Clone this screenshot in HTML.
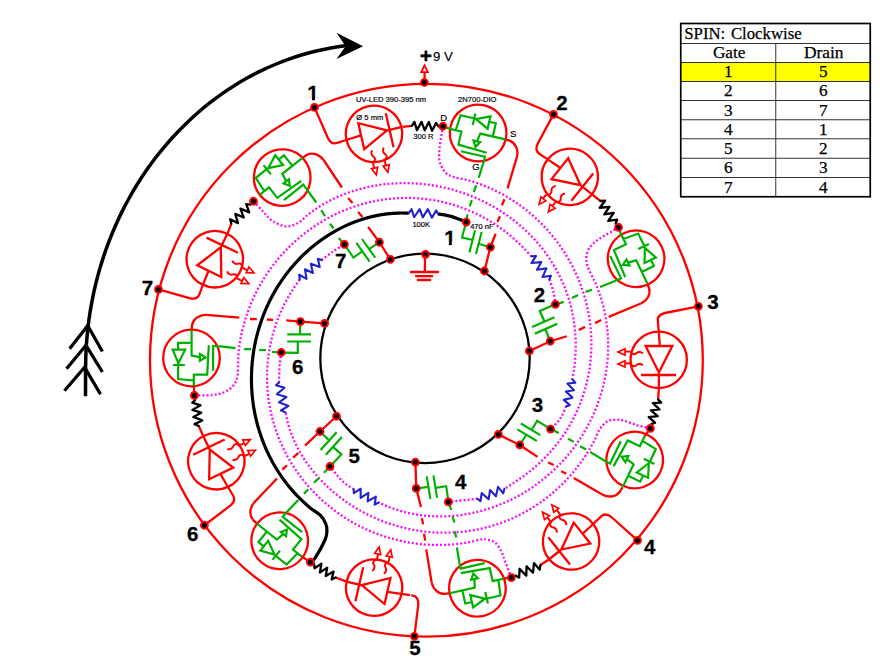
<!DOCTYPE html>
<html><head><meta charset="utf-8"><title>SPIN: Clockwise</title>
<style>
html,body{margin:0;padding:0;background:#fff;}
body{width:896px;height:672px;position:relative;overflow:hidden;}
svg{position:absolute;left:0;top:0;}
text{font-kerning:normal;}
</style></head><body>
<svg width="896" height="672" viewBox="0 0 896 672">
<circle cx="426.4" cy="360.25" r="276.4" stroke="#ff0000" stroke-width="2.3" fill="none"/>
<circle cx="425" cy="358.35" r="104.7" fill="none" stroke="#000" stroke-width="2.3"/>
<path d="M442.9,126.25 C442.62,127.96 441.83,132.71 441.25,136.5 C440.67,140.29 439.71,145.04 439.4,149 C439.09,152.96 438.98,157.23 439.4,160.25 C439.82,163.27 440.76,164.91 441.9,167.1 C443.04,169.29 444.27,171.73 446.25,173.4 C448.23,175.07 450.4,176.02 453.75,177.1 C457.1,178.18 462.21,178.77 466.37,179.87 C470.53,180.96 474.65,182.23 478.7,183.66 C482.74,185.08 486.73,186.68 490.64,188.42 C494.54,190.16 498.38,192.07 502.12,194.1 C505.86,196.13 509.52,198.31 513.08,200.62 C516.64,202.92 520.11,205.36 523.47,207.91 C526.82,210.46 530.08,213.14 533.23,215.92 C536.37,218.69 539.41,221.59 542.32,224.57 C545.24,227.55 548.04,230.64 550.71,233.8 C553.39,236.97 555.95,240.23 558.38,243.56 C560.8,246.88 563.11,250.3 565.28,253.77 C567.45,257.23 569.49,260.78 571.4,264.37 C573.31,267.96 575.09,271.61 576.73,275.3 C578.37,278.99 579.87,282.74 581.24,286.51 C582.61,290.28 583.84,294.1 584.93,297.93 C586.02,301.77 586.98,305.63 587.79,309.51 C588.61,313.38 589.28,317.28 589.82,321.18 C590.36,325.07 590.76,328.98 591.02,332.88 C591.28,336.78 591.4,340.68 591.39,344.56 C591.37,348.44 591.22,352.31 590.94,356.16 C590.65,360 590.23,363.83 589.68,367.62 C589.13,371.41 588.44,375.17 587.63,378.88 C586.82,382.6 585.88,386.28 584.81,389.9 C583.75,393.52 582.56,397.1 581.26,400.62 C579.95,404.13 578.52,407.6 576.98,410.99 C575.45,414.38 573.79,417.71 572.04,420.97 C570.28,424.22 568.41,427.41 566.45,430.51 C564.49,433.62 562.42,436.65 560.27,439.59 C558.12,442.54 555.87,445.4 553.54,448.18 C551.22,450.95 548.8,453.64 546.31,456.24 C543.83,458.84 541.26,461.35 538.63,463.77 C536,466.19 533.29,468.52 530.53,470.77 C527.78,473.01 524.95,475.16 522.08,477.22 C519.21,479.28 516.27,481.22 513.32,483.14 C510.37,485.06 505.89,487.81 504.4,488.75" stroke="#ff00ff" stroke-width="2.3" fill="none" stroke-dasharray="1.9 2.15"/><path d="M477.5,498.75 C472.65,499.27 453.25,501.38 448.4,501.9" stroke="#ff00ff" stroke-width="2.3" fill="none" stroke-dasharray="1.9 2.15"/><polyline points="504.4,488.75 503.26,493.33 498.01,486.92 495.92,496.32 490.1,490.03 488.59,499.3 481.71,493.03 480.46,501.24 477.5,498.75" fill="none" stroke="#2222cc" stroke-width="2.1" stroke-linejoin="round" stroke-linecap="round"/>
<path d="M618.5,227.3 C617.46,227.96 614.75,229.76 612.25,231.25 C609.75,232.74 606.21,234.58 603.5,236.25 C600.79,237.92 598.29,239.38 596,241.25 C593.71,243.12 591.32,245.21 589.75,247.5 C588.18,249.79 587.12,252.5 586.6,255 C586.08,257.5 586.18,260 586.6,262.5 C587.02,265 587.72,266.79 589.1,270 C590.48,273.21 593.11,277.78 594.86,281.78 C596.61,285.78 598.2,289.86 599.61,293.98 C601.02,298.1 602.26,302.3 603.32,306.51 C604.38,310.73 605.26,315 605.97,319.27 C606.68,323.55 607.21,327.86 607.57,332.16 C607.94,336.46 608.12,340.78 608.14,345.08 C608.16,349.38 608.01,353.68 607.7,357.94 C607.38,362.21 606.9,366.46 606.26,370.67 C605.62,374.87 604.82,379.05 603.88,383.17 C602.93,387.28 601.82,391.36 600.58,395.37 C599.34,399.38 597.94,403.34 596.42,407.22 C594.89,411.1 593.22,414.92 591.44,418.66 C589.65,422.39 587.72,426.05 585.69,429.62 C583.65,433.19 581.48,436.68 579.22,440.07 C576.95,443.46 574.56,446.76 572.08,449.96 C569.61,453.16 567.02,456.26 564.34,459.26 C561.67,462.25 558.89,465.15 556.04,467.94 C553.18,470.72 550.24,473.4 547.22,475.96 C544.21,478.53 541.11,480.98 537.96,483.32 C534.8,485.65 531.57,487.88 528.28,489.98 C525,492.08 521.65,494.06 518.25,495.93 C514.86,497.79 511.4,499.53 507.91,501.15 C504.42,502.76 500.88,504.26 497.31,505.62 C493.74,506.99 490.13,508.23 486.5,509.34 C482.87,510.45 479.21,511.44 475.53,512.29 C471.86,513.14 468.15,513.87 464.45,514.46 C460.74,515.05 457.02,515.5 453.31,515.83 C449.59,516.15 445.87,516.34 442.16,516.39 C438.46,516.44 434.75,516.36 431.07,516.14 C427.4,515.91 423.73,515.56 420.1,515.06 C416.47,514.56 412.86,513.92 409.31,513.15 C405.76,512.37 402.23,511.46 398.77,510.41 C395.32,509.35 391.9,508.15 388.57,506.83 C385.23,505.52 380.39,503.22 378.75,502.5" stroke="#ff00ff" stroke-width="2.3" fill="none" stroke-dasharray="1.9 2.15"/><path d="M353.75,489.4 C351.88,488.04 346.46,485.07 342.5,481.25 C338.54,477.43 332.08,468.96 330,466.5" stroke="#ff00ff" stroke-width="2.3" fill="none" stroke-dasharray="1.9 2.15"/><polyline points="378.75,502.5 374.65,504.68 375.89,496.62 367.64,501.28 368.41,492.88 360.64,497.87 360.71,488.72 353.88,493.2 353.75,489.4" fill="none" stroke="#2222cc" stroke-width="2.1" stroke-linejoin="round" stroke-linecap="round"/>
<path d="M650.4,428.4 C648.04,427.83 640.69,426.3 636.25,425 C631.81,423.7 627.19,421.48 623.75,420.6 C620.31,419.73 618.31,419.64 615.6,419.75 C612.89,419.86 610.1,419.75 607.5,421.25 C604.9,422.75 602.2,425.51 600,428.75 C597.8,431.99 596.34,436.78 594.3,440.68 C592.25,444.57 590.04,448.39 587.72,452.11 C585.4,455.83 582.95,459.48 580.37,463.02 C577.79,466.55 575.08,470 572.26,473.33 C569.44,476.65 566.48,479.88 563.43,482.97 C560.37,486.06 557.19,489.05 553.92,491.89 C550.64,494.73 547.25,497.45 543.78,500.02 C540.31,502.59 536.74,505.03 533.1,507.31 C529.45,509.6 525.71,511.74 521.92,513.73 C518.13,515.72 514.26,517.56 510.34,519.24 C506.43,520.92 502.44,522.44 498.43,523.81 C494.42,525.18 490.36,526.39 486.28,527.44 C482.2,528.49 478.08,529.38 473.96,530.12 C469.83,530.85 465.69,531.43 461.55,531.85 C457.41,532.27 453.26,532.54 449.13,532.65 C445,532.77 440.87,532.73 436.78,532.54 C432.68,532.36 428.6,532.02 424.55,531.55 C420.51,531.08 416.49,530.45 412.52,529.7 C408.55,528.95 404.62,528.05 400.74,527.03 C396.86,526.01 393.03,524.85 389.26,523.57 C385.49,522.3 381.78,520.89 378.13,519.37 C374.49,517.84 370.91,516.2 367.4,514.44 C363.9,512.69 360.46,510.82 357.1,508.85 C353.75,506.87 350.47,504.78 347.28,502.6 C344.1,500.42 340.99,498.13 337.98,495.75 C334.97,493.37 332.05,490.88 329.23,488.31 C326.41,485.74 323.69,483.08 321.08,480.33 C318.48,477.59 315.97,474.75 313.58,471.84 C311.2,468.93 308.92,465.93 306.78,462.87 C304.64,459.8 302.62,456.66 300.74,453.45 C298.86,450.25 297.11,446.97 295.52,443.64 C293.93,440.32 292.47,436.92 291.19,433.49 C289.91,430.06 288.76,426.58 287.83,423.06 C286.89,419.55 285.97,414.18 285.6,412.4" stroke="#ff00ff" stroke-width="2.3" fill="none" stroke-dasharray="1.9 2.15"/><path d="M279.1,382.5 C279.18,379.75 279.24,371 279.6,366 C279.96,361 280.98,354.75 281.25,352.5" stroke="#ff00ff" stroke-width="2.3" fill="none" stroke-dasharray="1.9 2.15"/><polyline points="285.6,412.4 280.94,410.5 288.5,405.93 278.89,402.31 286.4,397.11 276.85,394.13 284.51,387.81 276.03,385.25 279.1,382.5" fill="none" stroke="#2222cc" stroke-width="2.1" stroke-linejoin="round" stroke-linecap="round"/>
<path d="M511.4,577.6 C510.33,574.88 506.69,565.64 505,561.25 C503.31,556.86 502.92,554.38 501.25,551.25 C499.58,548.12 497.29,544.42 495,542.5 C492.71,540.58 489.79,540.27 487.5,539.75 C485.21,539.23 484.47,538.96 481.25,539.4 C478.03,539.84 472.55,541.59 468.16,542.38 C463.77,543.18 459.33,543.76 454.89,544.19 C450.46,544.62 446.01,544.87 441.58,544.96 C437.14,545.04 432.7,544.96 428.3,544.7 C423.89,544.45 419.49,544.02 415.13,543.44 C410.78,542.85 406.44,542.1 402.17,541.19 C397.89,540.28 393.65,539.2 389.48,537.98 C385.31,536.75 381.18,535.37 377.13,533.85 C373.09,532.32 369.1,530.64 365.2,528.83 C361.3,527.02 357.48,525.06 353.75,522.98 C350.02,520.89 346.37,518.67 342.83,516.33 C339.29,513.99 335.84,511.52 332.5,508.94 C329.16,506.36 325.92,503.66 322.81,500.86 C319.69,498.07 316.68,495.15 313.8,492.16 C310.91,489.16 308.15,486.05 305.51,482.87 C302.87,479.7 300.35,476.42 297.97,473.08 C295.59,469.74 293.34,466.32 291.22,462.84 C289.11,459.37 287.12,455.81 285.28,452.22 C283.43,448.62 281.73,444.96 280.16,441.27 C278.59,437.58 277.16,433.83 275.88,430.07 C274.59,426.3 273.44,422.49 272.44,418.67 C271.44,414.85 270.57,411 269.85,407.15 C269.13,403.3 268.55,399.42 268.11,395.56 C267.67,391.69 267.37,387.82 267.2,383.96 C267.04,380.11 267.02,376.25 267.13,372.42 C267.24,368.6 267.49,364.78 267.86,361 C268.24,357.22 268.75,353.45 269.39,349.74 C270.02,346.02 270.79,342.33 271.68,338.7 C272.57,335.06 273.59,331.46 274.71,327.92 C275.84,324.39 277.1,320.89 278.46,317.47 C279.82,314.04 281.3,310.67 282.88,307.36 C284.46,304.06 286.15,300.82 287.94,297.66 C289.73,294.49 291.63,291.4 293.6,288.38 C295.57,285.35 298.73,280.98 299.75,279.5" stroke="#ff00ff" stroke-width="2.3" fill="none" stroke-dasharray="1.9 2.15"/><path d="M321.6,260.1 C323.5,258.67 329.2,254.12 333,251.5 C336.8,248.88 342.5,245.58 344.4,244.4" stroke="#ff00ff" stroke-width="2.3" fill="none" stroke-dasharray="1.9 2.15"/><polyline points="299.75,279.5 299.15,274.73 306.49,278.88 305.01,269.2 312.85,273.01 310.87,263.66 319.71,267.09 317.87,258.83 321.6,260.1" fill="none" stroke="#2222cc" stroke-width="2.1" stroke-linejoin="round" stroke-linecap="round"/>
<path d="M310.4,562.2 C311.17,561.52 312.57,561.8 315,558.1 C317.43,554.4 323.02,544.48 325,540 C326.98,535.52 326.77,533.96 326.9,531.25 C327.02,528.54 326.77,526.36 325.75,523.75 C324.73,521.14 323.38,518.29 320.75,515.6 C318.12,512.91 313.41,510.46 309.95,507.64 C306.5,504.81 303.18,501.78 300.01,498.65 C296.84,495.52 293.8,492.23 290.91,488.84 C288.03,485.46 285.29,481.94 282.71,478.33 C280.13,474.73 277.7,471.01 275.44,467.22 C273.17,463.44 271.07,459.55 269.12,455.62 C267.18,451.68 265.39,447.67 263.77,443.62 C262.15,439.57 260.69,435.45 259.39,431.31 C258.09,427.18 256.95,422.99 255.98,418.8 C255,414.6 254.19,410.38 253.53,406.15 C252.87,401.93 252.37,397.68 252.02,393.46 C251.68,389.23 251.49,384.99 251.45,380.78 C251.41,376.57 251.52,372.36 251.78,368.19 C252.03,364.02 252.44,359.87 252.99,355.76 C253.53,351.65 254.23,347.57 255.05,343.54 C255.88,339.51 256.85,335.52 257.95,331.59 C259.04,327.66 260.28,323.77 261.63,319.95 C262.99,316.14 264.48,312.37 266.09,308.69 C267.69,305 269.43,301.38 271.27,297.84 C273.12,294.31 275.09,290.84 277.16,287.46 C279.23,284.09 281.42,280.79 283.71,277.59 C286,274.39 288.4,271.27 290.89,268.26 C293.38,265.26 295.97,262.34 298.65,259.53 C301.33,256.73 304.11,254.02 306.97,251.44 C309.82,248.85 312.77,246.37 315.79,244.02 C318.8,241.66 321.9,239.42 325.06,237.31 C328.22,235.19 331.46,233.2 334.74,231.34 C338.03,229.49 341.38,227.76 344.77,226.17 C348.17,224.58 351.62,223.12 355.1,221.81 C358.58,220.49 362.11,219.32 365.65,218.29 C369.2,217.26 372.78,216.38 376.37,215.65 C379.95,214.91 383.57,214.33 387.17,213.89 C390.78,213.46 394.4,213.18 398,213.05 C401.59,212.91 406.96,213.09 408.75,213.1" stroke="#000" stroke-width="3.2" fill="none"/><path d="M438.1,213.9 C440.42,214.35 447.31,215.23 452,216.6 C456.69,217.97 463.88,221.18 466.25,222.1" stroke="#000" stroke-width="3.2" fill="none"/><polyline points="408.75,213.1 411.59,209.19 414.11,217.28 419.69,209.16 422.81,217.35 427.78,209.14 431.91,217.72 436.24,210.41 438.1,213.9" fill="none" stroke="#2222cc" stroke-width="2.1" stroke-linejoin="round" stroke-linecap="round"/>
<path d="M194.4,395.4 C197.42,395.33 207.4,395.58 212.5,395 C217.6,394.42 221.46,393.57 225,391.9 C228.54,390.23 231.67,387.61 233.75,385 C235.83,382.39 236.78,379.79 237.5,376.25 C238.22,372.71 237.88,368.03 238.1,363.75 C238.32,359.47 238.38,354.95 238.83,350.59 C239.27,346.23 239.96,341.89 240.77,337.59 C241.59,333.3 242.57,329.04 243.71,324.84 C244.84,320.64 246.15,316.48 247.59,312.4 C249.04,308.32 250.64,304.3 252.38,300.36 C254.11,296.42 256,292.55 258.01,288.77 C260.03,284.99 262.18,281.29 264.46,277.69 C266.73,274.1 269.13,270.59 271.65,267.19 C274.16,263.79 276.8,260.48 279.53,257.3 C282.27,254.11 285.12,251.03 288.06,248.07 C291,245.1 294.04,242.25 297.16,239.53 C300.29,236.81 303.51,234.21 306.79,231.73 C310.08,229.26 313.45,226.91 316.88,224.7 C320.31,222.48 323.82,220.4 327.38,218.45 C330.93,216.5 334.55,214.68 338.21,213.01 C341.87,211.33 345.58,209.79 349.32,208.39 C353.06,206.99 356.84,205.73 360.64,204.62 C364.44,203.5 368.28,202.52 372.12,201.68 C375.96,200.84 379.82,200.15 383.68,199.59 C387.54,199.04 391.42,198.62 395.27,198.34 C399.13,198.07 402.99,197.93 406.83,197.93 C410.67,197.93 414.49,198.07 418.29,198.34 C422.08,198.61 425.86,199.02 429.6,199.55 C433.33,200.08 437.04,200.75 440.7,201.54 C444.35,202.33 447.97,203.24 451.53,204.28 C455.1,205.31 458.61,206.47 462.07,207.73 C465.52,209 468.92,210.39 472.25,211.87 C475.57,213.36 478.84,214.96 482.03,216.65 C485.23,218.34 488.35,220.14 491.4,222.03 C494.45,223.91 497.43,225.89 500.32,227.95 C503.22,230.02 506.04,232.17 508.77,234.39 C511.51,236.61 514.17,238.91 516.75,241.28 C519.32,243.64 521.82,246.09 524.24,248.58 C526.65,251.08 530.08,254.97 531.25,256.25" stroke="#ff00ff" stroke-width="2.3" fill="none" stroke-dasharray="1.9 2.15"/><path d="M549.4,279.4 C550.08,281.5 552.5,287.83 553.5,292 C554.5,296.17 555.08,302.33 555.4,304.4" stroke="#ff00ff" stroke-width="2.3" fill="none" stroke-dasharray="1.9 2.15"/><polyline points="531.25,256.25 536.08,255.94 531.45,263.06 541.28,262.17 536.96,269.82 546.48,268.4 542.5,277.07 550.9,275.73 549.4,279.4" fill="none" stroke="#2222cc" stroke-width="2.1" stroke-linejoin="round" stroke-linecap="round"/>
<path d="M253.5,201.25 C255.17,203.04 260.38,208.75 263.5,212 C266.62,215.25 268.5,218.35 272.25,220.75 C276,223.15 281.62,226.09 286,226.4 C290.38,226.71 294.74,224.64 298.5,222.6 C302.26,220.56 305.11,216.84 308.59,214.18 C312.06,211.52 315.65,209 319.34,206.67 C323.03,204.34 326.85,202.19 330.73,200.22 C334.61,198.24 338.59,196.45 342.61,194.83 C346.63,193.21 350.73,191.77 354.85,190.49 C358.97,189.22 363.15,188.12 367.33,187.18 C371.51,186.25 375.73,185.48 379.94,184.88 C384.15,184.27 388.38,183.83 392.6,183.54 C396.81,183.25 401.03,183.12 405.21,183.13 C409.4,183.15 413.58,183.32 417.72,183.63 C421.86,183.93 425.98,184.39 430.06,184.98 C434.13,185.56 438.18,186.3 442.16,187.15 C446.15,188.01 450.1,189 453.99,190.12 C457.88,191.23 461.72,192.47 465.5,193.83 C469.27,195.2 472.99,196.68 476.63,198.28 C480.27,199.87 483.85,201.59 487.35,203.41 C490.85,205.23 494.29,207.17 497.63,209.21 C500.97,211.24 504.24,213.39 507.41,215.63 C510.59,217.87 513.68,220.22 516.67,222.65 C519.66,225.08 522.57,227.62 525.37,230.23 C528.16,232.84 530.87,235.55 533.46,238.33 C536.05,241.11 538.54,243.98 540.92,246.92 C543.29,249.86 545.56,252.87 547.7,255.95 C549.85,259.02 551.89,262.17 553.8,265.36 C555.71,268.56 557.5,271.82 559.16,275.12 C560.83,278.43 562.37,281.78 563.79,285.17 C565.21,288.56 566.5,292 567.66,295.45 C568.82,298.91 569.85,302.4 570.76,305.91 C571.67,309.41 572.45,312.94 573.1,316.48 C573.76,320.01 574.28,323.56 574.69,327.1 C575.1,330.65 575.38,334.2 575.54,337.73 C575.71,341.27 575.75,344.81 575.68,348.32 C575.62,351.83 575.43,355.34 575.15,358.81 C574.87,362.29 574.48,365.75 573.99,369.18 C573.51,372.61 572.54,377.7 572.25,379.4" stroke="#ff00ff" stroke-width="2.3" fill="none" stroke-dasharray="1.9 2.15"/><path d="M566.25,406.25 C565.21,408.38 562.61,415.19 560,419 C557.39,422.81 552.17,427.42 550.6,429.1" stroke="#ff00ff" stroke-width="2.3" fill="none" stroke-dasharray="1.9 2.15"/><polyline points="572.25,379.4 575.34,382.71 567.44,383.58 573.91,390.16 565.82,391.57 572.48,397.62 563.85,399.88 569.8,405.16 566.25,406.25" fill="none" stroke="#2222cc" stroke-width="2.1" stroke-linejoin="round" stroke-linecap="round"/>
<g id="u1">
<g transform="matrix(-0.22252 0.97493 -0.97493 -0.22252 869.737 25.964)"><circle cx="191.5" cy="358" r="28.3" stroke="#ff0000" stroke-width="2.3" fill="none"/></g><g transform="matrix(-0.22252 0.97493 -0.97493 -0.22252 869.737 25.964)"><path d="M191.7,330 L192,325 C193.2,319 199,314.7 206.2,314.8" stroke="#ff0000" stroke-width="2.3" fill="none"/><path d="M191.6,330 L191.6,355.7 L199.4,357.2 M199.9,354 L199.9,360.8 L205.6,357.4 Z M208.8,345.3 L207.2,374.6 L193.8,374.6 L193.8,386.6 M213.1,370.8 L213.1,346.1 L218.3,346.2 M191.6,342.9 L178.1,342.9 L178.1,349.7 M172.6,349.7 L185.2,349.7 L178.4,363.2 Z M173,365 L184.9,365 M178.1,363.4 L178.1,379 L193.8,380.5" stroke="#00b000" stroke-width="2.2" fill="none"/></g><path d="M442.9,126.25 L450.27,129.11" stroke="#00b000" stroke-width="2.2" fill="none"/><path d="M516.95,156.94 L507.5,188.4 M504.4,199.2 L501.9,205.4 M500,216.25 L497.5,221.9 M495.6,233.75 L490.4,247.25" stroke="#ff0000" stroke-width="2.3" fill="none"/><path d="M483.64,161.75 L478.75,177.75 M476.25,185.25 L473.75,192.1 M471.9,200.1 L469.7,206.4 M467.5,214.4 L466.25,222.1" stroke="#00b000" stroke-width="2.2" fill="none"/>
<g transform="matrix(-0.23810 0.92912 -0.92912 -0.23810 860.730 44.718)"><path d="M281.25,352.6 L297.8,352.8 L297.8,341.5 M287.2,341.5 L311,341.5 M287.2,334.4 L311,334.4 M300,334.4 L300.3,321.6" stroke="#00b000" stroke-width="2.2" fill="none"/></g><path d="M490.4,247.25 L484.4,271" stroke="#ff0000" stroke-width="2.3" fill="none"/><circle cx="466.25" cy="222.1" r="3.45" fill="#000" stroke="#ff0000" stroke-width="1.9"/><circle cx="490.4" cy="247.25" r="3.45" fill="#000" stroke="#ff0000" stroke-width="1.9"/><circle cx="484.4" cy="271" r="3.45" fill="#000" stroke="#ff0000" stroke-width="1.9"/>
<g transform="matrix(-0.22252 -0.97493 0.97493 -0.22252 169.795 856.048)"><circle cx="658.7" cy="359.8" r="28.2" stroke="#ff0000" stroke-width="2.3" fill="none"/></g><path d="M314.5,107.4 L327.77,137.67 C330.05,142.69 332.68,144.35 337.17,142.91 L347.67,139.49 L361.1,135.4" stroke="#ff0000" stroke-width="2.3" fill="none"/><g transform="matrix(-0.22252 -0.97493 0.97493 -0.22252 170.595 855.648)"><path d="M645.6,346 L672.3,346 L658.9,372.4 Z M641.1,375 L676,375 M658.9,372.8 L658.9,388" stroke="#ff0000" stroke-width="2.3" fill="none"/><path d="M642.8,353.5 C640.5,351 637.5,352 636,353.5 C634,355.3 631.5,354 631,351.6 L625.5,351.4" stroke="#ff0000" fill="none" stroke-width="2"/><path d="M625,348.8 L625,355.1 L618,352 Z" stroke="#ff0000" fill="none" stroke-width="1.7"/><path d="M642.8,365.4 C640.5,362.9 637.5,363.9 636,365.4 C634,367.2 631.5,365.9 631,363.5 L625.5,363.3" stroke="#ff0000" fill="none" stroke-width="2"/><path d="M625,360.7 L625,367 L618,363.9 Z" stroke="#ff0000" fill="none" stroke-width="1.7"/></g><circle cx="314.5" cy="107.4" r="3.45" fill="#000" stroke="#ff0000" stroke-width="1.9"/>
<path d="M402.25,126.93 L411.9,125.8" stroke="#ff0000" stroke-width="2.3" fill="none"/><polyline points="411.9,125.8 414.4,121.9 416.9,130.1 421.6,121.9 424.75,130.3 428.8,122 432.1,130.8 436,123 438.4,126.4" fill="none" stroke="#000" stroke-width="2.3" stroke-linejoin="round" stroke-linecap="round"/>
<circle cx="442.9" cy="126.25" r="3.45" fill="#000" stroke="#ff0000" stroke-width="1.9"/>
</g>
<g id="u2">
<g transform="matrix(-0.90097 0.43388 -0.43388 -0.90097 963.966 498.208)"><circle cx="191.5" cy="358" r="28.3" stroke="#ff0000" stroke-width="2.3" fill="none"/></g><g transform="matrix(-0.90097 0.43388 -0.43388 -0.90097 963.166 497.708)"><path d="M191.7,330 L192,325 C193.2,319 199,314.7 206.2,314.8" stroke="#ff0000" stroke-width="2.3" fill="none"/><path d="M191.6,330 L191.6,355.7 L199.4,357.2 M199.9,354 L199.9,360.8 L205.6,357.4 Z M208.8,345.3 L207.2,374.6 L193.8,374.6 L193.8,386.6 M213.1,370.8 L213.1,346.1 L218.3,346.2 M191.6,342.9 L178.1,342.9 L178.1,349.7 M172.6,349.7 L185.2,349.7 L178.4,363.2 Z M173,365 L184.9,365 M178.1,363.4 L178.1,379 L193.8,380.5" stroke="#00b000" stroke-width="2.2" fill="none"/></g><path d="M618.5,227.3 L620.99,234.06" stroke="#00b000" stroke-width="2.2" fill="none"/><path d="M640.8,303.55 L608.75,316.9 M601.25,320 L595,323.1 M585,326.9 L578.75,330 M566.9,336.25 L550.25,341.25" stroke="#ff0000" stroke-width="2.3" fill="none"/><path d="M616.27,280.51 L600,286.9 M591.9,289.75 L585.6,291.9 M578.1,295 L571.9,298.1 M563.75,301.9 L555.4,304.4" stroke="#00b000" stroke-width="2.2" fill="none"/>
<g transform="matrix(-0.93625 0.41357 -0.41357 -0.93625 964.503 518.113)"><path d="M281.25,352.6 L297.8,352.8 L297.8,341.5 M287.2,341.5 L311,341.5 M287.2,334.4 L311,334.4 M300,334.4 L300.3,321.6" stroke="#00b000" stroke-width="2.2" fill="none"/></g><path d="M550.25,341.25 L529.4,351" stroke="#ff0000" stroke-width="2.3" fill="none"/><circle cx="555.4" cy="304.4" r="3.45" fill="#000" stroke="#ff0000" stroke-width="1.9"/><circle cx="550.25" cy="341.25" r="3.45" fill="#000" stroke="#ff0000" stroke-width="1.9"/><circle cx="529.4" cy="351" r="3.45" fill="#000" stroke="#ff0000" stroke-width="1.9"/>
<g transform="matrix(0.62349 -0.78183 0.78183 0.62349 -122.196 467.561)"><circle cx="658.7" cy="359.8" r="28.2" stroke="#ff0000" stroke-width="2.3" fill="none"/></g><path d="M553.5,114.4 L537.84,143.4 C535.33,148.3 535.68,151.39 539.6,154.01 L548.83,160.09 L560.4,168.04" stroke="#ff0000" stroke-width="2.3" fill="none"/><g transform="matrix(0.62349 -0.78183 0.78183 0.62349 -121.496 468.161)"><path d="M645.6,346 L672.3,346 L658.9,372.4 Z M641.1,375 L676,375 M658.9,372.8 L658.9,388" stroke="#ff0000" stroke-width="2.3" fill="none"/><path d="M642.8,353.5 C640.5,351 637.5,352 636,353.5 C634,355.3 631.5,354 631,351.6 L625.5,351.4" stroke="#ff0000" fill="none" stroke-width="2"/><path d="M625,348.8 L625,355.1 L618,352 Z" stroke="#ff0000" fill="none" stroke-width="1.7"/><path d="M642.8,365.4 C640.5,362.9 637.5,363.9 636,365.4 C634,367.2 631.5,365.9 631,363.5 L625.5,363.3" stroke="#ff0000" fill="none" stroke-width="2"/><path d="M625,360.7 L625,367 L618,363.9 Z" stroke="#ff0000" fill="none" stroke-width="1.7"/></g><circle cx="553.5" cy="114.4" r="3.45" fill="#000" stroke="#ff0000" stroke-width="1.9"/>
<path d="M592.67,194.93 L600.4,201" stroke="#ff0000" stroke-width="2.3" fill="none"/><polyline points="600.4,201 605.17,200.77 599.77,207.76 609.46,206.82 604.28,214.47 613.66,212.93 608.24,220.94 617.12,219.57 615.69,223.61" fill="none" stroke="#000" stroke-width="2.3" stroke-linejoin="round" stroke-linecap="round"/>
<circle cx="618.5" cy="227.3" r="3.45" fill="#000" stroke="#ff0000" stroke-width="1.9"/>
</g>
<g id="u3">
<g transform="matrix(-0.90097 -0.43388 0.43388 -0.90097 651.905 865.636)"><circle cx="191.5" cy="358" r="28.3" stroke="#ff0000" stroke-width="2.3" fill="none"/></g><g transform="matrix(-0.90097 -0.43388 0.43388 -0.90097 651.905 867.836)"><path d="M191.7,330 L192,325 C193.2,319 199,314.7 206.2,314.8" stroke="#ff0000" stroke-width="2.3" fill="none"/><path d="M191.6,330 L191.6,355.7 L199.4,357.2 M199.9,354 L199.9,360.8 L205.6,357.4 Z M208.8,345.3 L207.2,374.6 L193.8,374.6 L193.8,386.6 M213.1,370.8 L213.1,346.1 L218.3,346.2 M191.6,342.9 L178.1,342.9 L178.1,349.7 M172.6,349.7 L185.2,349.7 L178.4,363.2 Z M173,365 L184.9,365 M178.1,363.4 L178.1,379 L193.8,380.5" stroke="#00b000" stroke-width="2.2" fill="none"/></g><path d="M650.4,428.4 L644.69,435.93" stroke="#ff0000" stroke-width="2.3" fill="none"/><path d="M602.71,494.74 L573.75,478.1 M566.25,473.75 L561.25,471.25 M553.75,465 L548.1,462.5 M537.5,456.9 L519.75,445" stroke="#ff0000" stroke-width="2.3" fill="none"/><path d="M605.43,461.2 L590,451.9 M586.25,449.4 L580,446.25 M573.75,441.9 L568.1,438.75 M558.75,433.1 L550.6,429.1" stroke="#00b000" stroke-width="2.2" fill="none"/>
<g transform="matrix(-0.81881 -0.49093 0.49093 -0.81881 607.838 855.806)"><path d="M281.25,352.6 L297.8,352.8 L297.8,341.5 M287.2,341.5 L311,341.5 M287.2,334.4 L311,334.4 M300,334.4 L300.3,321.6" stroke="#00b000" stroke-width="2.2" fill="none"/></g><path d="M519.75,445 L498.4,434.4" stroke="#ff0000" stroke-width="2.3" fill="none"/><circle cx="550.6" cy="429.1" r="3.45" fill="#000" stroke="#ff0000" stroke-width="1.9"/><circle cx="519.75" cy="445" r="3.45" fill="#000" stroke="#ff0000" stroke-width="1.9"/><circle cx="498.4" cy="434.4" r="3.45" fill="#000" stroke="#ff0000" stroke-width="1.9"/>
<g transform="matrix(1.00000 0.00000 -0.00000 1.00000 0.000 0.000)"><circle cx="658.7" cy="359.8" r="28.2" stroke="#ff0000" stroke-width="2.3" fill="none"/></g><path d="M698.4,306.3 L665,313 C659.6,314.1 657.4,316.3 657.8,321 L658.8,332 L659.8,346" stroke="#ff0000" stroke-width="2.3" fill="none"/><g transform="matrix(1.00000 0.00000 -0.00000 1.00000 0.000 0.000)"><path d="M645.6,346 L672.3,346 L658.9,372.4 Z M641.1,375 L676,375 M658.9,372.8 L658.9,388" stroke="#ff0000" stroke-width="2.3" fill="none"/><path d="M642.8,353.5 C640.5,351 637.5,352 636,353.5 C634,355.3 631.5,354 631,351.6 L625.5,351.4" stroke="#ff0000" fill="none" stroke-width="2"/><path d="M625,348.8 L625,355.1 L618,352 Z" stroke="#ff0000" fill="none" stroke-width="1.7"/><path d="M642.8,365.4 C640.5,362.9 637.5,363.9 636,365.4 C634,367.2 631.5,365.9 631,363.5 L625.5,363.3" stroke="#ff0000" fill="none" stroke-width="2"/><path d="M625,360.7 L625,367 L618,363.9 Z" stroke="#ff0000" fill="none" stroke-width="1.7"/></g><circle cx="698.4" cy="306.3" r="3.45" fill="#000" stroke="#ff0000" stroke-width="1.9"/>
<path d="M658.9,388 L658.1,399.4" stroke="#ff0000" stroke-width="2.3" fill="none"/><polyline points="658.1,399.4 661.17,402.66 652.89,403.08 659.48,409.42 650.86,410.41 657.7,416.16 648.66,417.19 655.07,422.68 651.32,424.14" fill="none" stroke="#000" stroke-width="2.3" stroke-linejoin="round" stroke-linecap="round"/>
<circle cx="650.4" cy="428.4" r="3.45" fill="#000" stroke="#ff0000" stroke-width="1.9"/>
</g>
<g id="u4">
<g transform="matrix(-0.22252 -0.97493 0.97493 -0.22252 170.989 854.561)"><circle cx="191.5" cy="358" r="28.3" stroke="#ff0000" stroke-width="2.3" fill="none"/></g><g transform="matrix(-0.22252 -0.97493 0.97493 -0.22252 170.589 853.461)"><path d="M191.7,330 L192,325 C193.2,319 199,314.7 206.2,314.8" stroke="#ff0000" stroke-width="2.3" fill="none"/><path d="M191.6,330 L191.6,355.7 L199.4,357.2 M199.9,354 L199.9,360.8 L205.6,357.4 Z M208.8,345.3 L207.2,374.6 L193.8,374.6 L193.8,386.6 M213.1,370.8 L213.1,346.1 L218.3,346.2 M191.6,342.9 L178.1,342.9 L178.1,349.7 M172.6,349.7 L185.2,349.7 L178.4,363.2 Z M173,365 L184.9,365 M178.1,363.4 L178.1,379 L193.8,380.5" stroke="#00b000" stroke-width="2.2" fill="none"/></g><path d="M511.4,577.6 L503.76,578.53" stroke="#ff0000" stroke-width="2.3" fill="none"/><path d="M431.61,582.38 L426.25,549.4 M425.25,540.6 L424,533.75 M423.1,524.4 L421.9,518.1 M421,507 L416.25,488.4" stroke="#ff0000" stroke-width="2.3" fill="none"/><path d="M459.53,563.6 L456.9,547.5 M456.25,537.5 L454.75,531.25 M454.4,522.5 L452.5,516.25 M451.25,510 L448.4,501.9" stroke="#00b000" stroke-width="2.2" fill="none"/>
<g transform="matrix(-0.15022 -0.94735 0.94735 -0.15022 156.707 821.297)"><path d="M281.25,352.6 L297.8,352.8 L297.8,341.5 M287.2,341.5 L311,341.5 M287.2,334.4 L311,334.4 M300,334.4 L300.3,321.6" stroke="#00b000" stroke-width="2.2" fill="none"/></g><path d="M416.25,488.4 L415.4,462.25" stroke="#ff0000" stroke-width="2.3" fill="none"/><circle cx="448.4" cy="501.9" r="3.45" fill="#000" stroke="#ff0000" stroke-width="1.9"/><circle cx="416.25" cy="488.4" r="3.45" fill="#000" stroke="#ff0000" stroke-width="1.9"/><circle cx="415.4" cy="462.25" r="3.45" fill="#000" stroke="#ff0000" stroke-width="1.9"/>
<g transform="matrix(0.62349 0.78183 -0.78183 0.62349 441.710 -197.824)"><circle cx="658.7" cy="359.8" r="28.2" stroke="#ff0000" stroke-width="2.3" fill="none"/></g><path d="M637.5,540.4 L611.62,517.25 C607.39,513.71 604.3,513.36 600.87,516.6 L592.9,524.25 L582.58,533.76" stroke="#ff0000" stroke-width="2.3" fill="none"/><g transform="matrix(0.62349 0.78183 -0.78183 0.62349 441.710 -197.824)"><path d="M645.6,346 L672.3,346 L658.9,372.4 Z M641.1,375 L676,375 M658.9,372.8 L658.9,388" stroke="#ff0000" stroke-width="2.3" fill="none"/><path d="M642.8,353.5 C640.5,351 637.5,352 636,353.5 C634,355.3 631.5,354 631,351.6 L625.5,351.4" stroke="#ff0000" fill="none" stroke-width="2"/><path d="M625,348.8 L625,355.1 L618,352 Z" stroke="#ff0000" fill="none" stroke-width="1.7"/><path d="M642.8,365.4 C640.5,362.9 637.5,363.9 636,365.4 C634,367.2 631.5,365.9 631,363.5 L625.5,363.3" stroke="#ff0000" fill="none" stroke-width="2"/><path d="M625,360.7 L625,367 L618,363.9 Z" stroke="#ff0000" fill="none" stroke-width="1.7"/></g><circle cx="637.5" cy="540.4" r="3.45" fill="#000" stroke="#ff0000" stroke-width="1.9"/>
<path d="M549.18,559.24 L540.4,565" stroke="#ff0000" stroke-width="2.3" fill="none"/><polyline points="540.4,565 539.71,569.67 533.95,563.1 533.02,572.7 526.57,566.21 526.29,575.63 519.53,568.84 519.18,577.72 515.52,575.57" fill="none" stroke="#000" stroke-width="2.3" stroke-linejoin="round" stroke-linecap="round"/>
<circle cx="511.4" cy="577.6" r="3.45" fill="#000" stroke="#ff0000" stroke-width="1.9"/>
</g>
<g id="u5">
<g transform="matrix(0.62349 -0.78183 0.78183 0.62349 -119.594 467.261)"><circle cx="191.5" cy="358" r="28.3" stroke="#ff0000" stroke-width="2.3" fill="none"/></g><g transform="matrix(0.62349 -0.78183 0.78183 0.62349 -120.694 467.561)"><path d="M191.7,330 L192,325 C193.2,319 199,314.7 206.2,314.8" stroke="#ff0000" stroke-width="2.3" fill="none"/><path d="M191.6,330 L191.6,355.7 L199.4,357.2 M199.9,354 L199.9,360.8 L205.6,357.4 Z M208.8,345.3 L207.2,374.6 L193.8,374.6 L193.8,386.6 M213.1,370.8 L213.1,346.1 L218.3,346.2 M191.6,342.9 L178.1,342.9 L178.1,349.7 M172.6,349.7 L185.2,349.7 L178.4,363.2 Z M173,365 L184.9,365 M178.1,363.4 L178.1,379 L193.8,380.5" stroke="#00b000" stroke-width="2.2" fill="none"/></g><path d="M310.4,562.2 L301.99,556.63" stroke="#ff0000" stroke-width="2.3" fill="none"/><path d="M253.99,502.62 L277,478.5 M282.3,469.7 L287,465.3 M293.2,457.6 L298.2,452.9 M305,445.6 L320,431.5" stroke="#ff0000" stroke-width="2.3" fill="none"/><path d="M286.08,512.74 L298.25,500 M303.9,493.75 L308.25,489.4 M313.9,482.75 L318.9,478.1 M323.9,472.75 L330,466.5" stroke="#00b000" stroke-width="2.2" fill="none"/>
<g transform="matrix(0.67346 -0.74100 0.74100 0.67346 -120.612 437.510)"><path d="M281.25,352.6 L297.8,352.8 L297.8,341.5 M287.2,341.5 L311,341.5 M287.2,334.4 L311,334.4 M300,334.4 L300.3,321.6" stroke="#00b000" stroke-width="2.2" fill="none"/></g><path d="M320,431.5 L336.5,416.25" stroke="#ff0000" stroke-width="2.3" fill="none"/><circle cx="330" cy="466.5" r="3.45" fill="#000" stroke="#ff0000" stroke-width="1.9"/><circle cx="320" cy="431.5" r="3.45" fill="#000" stroke="#ff0000" stroke-width="1.9"/><circle cx="336.5" cy="416.25" r="3.45" fill="#000" stroke="#ff0000" stroke-width="1.9"/>
<g transform="matrix(-0.22252 0.97493 -0.97493 -0.22252 871.454 25.578)"><circle cx="658.7" cy="359.8" r="28.2" stroke="#ff0000" stroke-width="2.3" fill="none"/></g><path d="M414.4,636.3 L418.32,604.26 C418.45,598.75 416.8,596.11 412.13,595.46 L401.18,593.98 L387.31,591.84" stroke="#ff0000" stroke-width="2.3" fill="none"/><g transform="matrix(-0.22252 0.97493 -0.97493 -0.22252 871.454 25.578)"><path d="M645.6,346 L672.3,346 L658.9,372.4 Z M641.1,375 L676,375 M658.9,372.8 L658.9,388" stroke="#ff0000" stroke-width="2.3" fill="none"/><path d="M642.8,353.5 C640.5,351 637.5,352 636,353.5 C634,355.3 631.5,354 631,351.6 L625.5,351.4" stroke="#ff0000" fill="none" stroke-width="2"/><path d="M625,348.8 L625,355.1 L618,352 Z" stroke="#ff0000" fill="none" stroke-width="1.7"/><path d="M642.8,365.4 C640.5,362.9 637.5,363.9 636,365.4 C634,367.2 631.5,365.9 631,363.5 L625.5,363.3" stroke="#ff0000" fill="none" stroke-width="2"/><path d="M625,360.7 L625,367 L618,363.9 Z" stroke="#ff0000" fill="none" stroke-width="1.7"/></g><path d="M410.7,593.6 L410.4,597.8" stroke="#fff" stroke-width="1.3" fill="none"/><circle cx="414.4" cy="636.3" r="3.45" fill="#000" stroke="#ff0000" stroke-width="1.9"/>
<path d="M346.56,581.62 L335.6,577.5" stroke="#ff0000" stroke-width="2.3" fill="none"/><polyline points="335.6,577.5 331.67,579.49 333.57,571.57 325.77,576.03 327.23,567.62 319.91,572.48 321.45,563.67 314.49,568.19 314.16,564.24" fill="none" stroke="#000" stroke-width="2.3" stroke-linejoin="round" stroke-linecap="round"/>
<circle cx="310.4" cy="562.2" r="3.45" fill="#000" stroke="#ff0000" stroke-width="1.9"/>
</g>
<g id="u6">
<g transform="matrix(1.00000 0.00000 -0.00000 1.00000 0.000 0.000)"><circle cx="191.5" cy="358" r="28.3" stroke="#ff0000" stroke-width="2.3" fill="none"/></g><g transform="matrix(1.00000 0.00000 -0.00000 1.00000 0.000 0.000)"><path d="M191.7,330 L192,325 C193.2,319 199,314.7 206.2,314.8" stroke="#ff0000" stroke-width="2.3" fill="none"/><path d="M191.6,330 L191.6,355.7 L199.4,357.2 M199.9,354 L199.9,360.8 L205.6,357.4 Z M208.8,345.3 L207.2,374.6 L193.8,374.6 L193.8,386.6 M213.1,370.8 L213.1,346.1 L218.3,346.2 M191.6,342.9 L178.1,342.9 L178.1,349.7 M172.6,349.7 L185.2,349.7 L178.4,363.2 Z M173,365 L184.9,365 M178.1,363.4 L178.1,379 L193.8,380.5" stroke="#00b000" stroke-width="2.2" fill="none"/></g><path d="M194.4,395.4 L193.9,386" stroke="#ff0000" stroke-width="2.3" fill="none"/><path d="M206.2,314.8 L239.3,317.7 M250,319 L256.9,319.2 M266.9,319.5 L273.1,319.8 M286.25,320.4 L300.4,321.6" stroke="#ff0000" stroke-width="2.3" fill="none"/><path d="M218.3,346.2 L235.5,348.2 M244.1,349.1 L251,349.15 M259.1,350 L266,350.05 M271.9,351.9 L281.25,352.5" stroke="#00b000" stroke-width="2.2" fill="none"/>
<g transform="matrix(1.00000 0.00000 -0.00000 1.00000 0.000 0.000)"><path d="M281.25,352.6 L297.8,352.8 L297.8,341.5 M287.2,341.5 L311,341.5 M287.2,334.4 L311,334.4 M300,334.4 L300.3,321.6" stroke="#00b000" stroke-width="2.2" fill="none"/></g><path d="M300.4,321.6 L324.6,323.4" stroke="#ff0000" stroke-width="2.3" fill="none"/><circle cx="281.25" cy="352.5" r="3.45" fill="#000" stroke="#ff0000" stroke-width="1.9"/><circle cx="300.4" cy="321.6" r="3.45" fill="#000" stroke="#ff0000" stroke-width="1.9"/><circle cx="324.6" cy="323.4" r="3.45" fill="#000" stroke="#ff0000" stroke-width="1.9"/>
<g transform="matrix(-0.90097 0.43388 -0.43388 -0.90097 965.880 499.569)"><circle cx="658.7" cy="359.8" r="28.2" stroke="#ff0000" stroke-width="2.3" fill="none"/></g><path d="M204.4,525.25 L230.03,505.8 C234.42,502.46 235.45,499.53 233.05,495.47 L227.37,485.99 L220.4,473.81" stroke="#ff0000" stroke-width="2.3" fill="none"/><g transform="matrix(-0.90097 0.43388 -0.43388 -0.90097 964.980 499.269)"><path d="M645.6,346 L672.3,346 L658.9,372.4 Z M641.1,375 L676,375 M658.9,372.8 L658.9,388" stroke="#ff0000" stroke-width="2.3" fill="none"/><path d="M642.8,353.5 C640.5,351 637.5,352 636,353.5 C634,355.3 631.5,354 631,351.6 L625.5,351.4" stroke="#ff0000" fill="none" stroke-width="2"/><path d="M625,348.8 L625,355.1 L618,352 Z" stroke="#ff0000" fill="none" stroke-width="1.7"/><path d="M642.8,365.4 C640.5,362.9 637.5,363.9 636,365.4 C634,367.2 631.5,365.9 631,363.5 L625.5,363.3" stroke="#ff0000" fill="none" stroke-width="2"/><path d="M625,360.7 L625,367 L618,363.9 Z" stroke="#ff0000" fill="none" stroke-width="1.7"/></g><circle cx="204.4" cy="525.25" r="3.45" fill="#000" stroke="#ff0000" stroke-width="1.9"/>
<path d="M202.98,435.58 L198.75,426" stroke="#ff0000" stroke-width="2.3" fill="none"/><polyline points="198.75,426 194.52,424.14 202.21,420.41 193.41,417.05 201.19,412.65 192.39,409.94 200.55,405.33 192.27,402.7 195.24,399.81" fill="none" stroke="#000" stroke-width="2.3" stroke-linejoin="round" stroke-linecap="round"/>
<circle cx="194.4" cy="395.4" r="3.45" fill="#000" stroke="#ff0000" stroke-width="1.9"/>
</g>
<g id="u7">
<g transform="matrix(0.62349 0.78183 -0.78183 0.62349 442.697 -195.330)"><circle cx="191.5" cy="358" r="28.3" stroke="#ff0000" stroke-width="2.3" fill="none"/></g><g transform="matrix(0.62349 0.78183 -0.78183 0.62349 440.997 -197.730)"><path d="M191.7,330 L192,325 C193.2,319 199,314.7 206.2,314.8" stroke="#ff0000" stroke-width="2.3" fill="none"/><path d="M191.6,330 L191.6,355.7 L199.4,357.2 M199.9,354 L199.9,360.8 L205.6,357.4 Z M208.8,345.3 L207.2,374.6 L193.8,374.6 L193.8,386.6 M213.1,370.8 L213.1,346.1 L218.3,346.2 M191.6,342.9 L178.1,342.9 L178.1,349.7 M172.6,349.7 L185.2,349.7 L178.4,363.2 Z M173,365 L184.9,365 M178.1,363.4 L178.1,379 L193.8,380.5" stroke="#00b000" stroke-width="2.2" fill="none"/></g><path d="M323.44,159.76 L341.9,187.5 M348.1,198.1 L352.5,203.1 M358.1,211.9 L362.5,216.9 M368.1,226.9 L379.4,242.25" stroke="#ff0000" stroke-width="2.3" fill="none"/><path d="M306.44,188.8 L316.25,202.5 M321.25,210 L325,216.25 M330,223.75 L333.6,228.5 M338.75,238.1 L344.4,244.4" stroke="#00b000" stroke-width="2.2" fill="none"/>
<g transform="matrix(0.55745 0.78721 -0.78721 0.55745 465.110 -173.504)"><path d="M281.25,352.6 L297.8,352.8 L297.8,341.5 M287.2,341.5 L311,341.5 M287.2,334.4 L311,334.4 M300,334.4 L300.3,321.6" stroke="#00b000" stroke-width="2.2" fill="none"/></g><path d="M379.4,242.25 L390.4,259.4" stroke="#ff0000" stroke-width="2.3" fill="none"/><circle cx="344.4" cy="244.4" r="3.45" fill="#000" stroke="#ff0000" stroke-width="1.9"/><circle cx="379.4" cy="242.25" r="3.45" fill="#000" stroke="#ff0000" stroke-width="1.9"/><circle cx="390.4" cy="259.4" r="3.45" fill="#000" stroke="#ff0000" stroke-width="1.9"/>
<g transform="matrix(-0.90097 -0.43388 0.43388 -0.90097 652.157 869.168)"><circle cx="658.7" cy="359.8" r="28.2" stroke="#ff0000" stroke-width="2.3" fill="none"/></g><path d="M158.5,289.4 L189.52,298.23 C194.86,299.58 197.8,298.56 199.48,294.15 L203.35,283.8 L208.52,270.76" stroke="#ff0000" stroke-width="2.3" fill="none"/><g transform="matrix(-0.90097 -0.43388 0.43388 -0.90097 652.857 868.768)"><path d="M645.6,346 L672.3,346 L658.9,372.4 Z M641.1,375 L676,375 M658.9,372.8 L658.9,388" stroke="#ff0000" stroke-width="2.3" fill="none"/><path d="M642.8,353.5 C640.5,351 637.5,352 636,353.5 C634,355.3 631.5,354 631,351.6 L625.5,351.4" stroke="#ff0000" fill="none" stroke-width="2"/><path d="M625,348.8 L625,355.1 L618,352 Z" stroke="#ff0000" fill="none" stroke-width="1.7"/><path d="M642.8,365.4 C640.5,362.9 637.5,363.9 636,365.4 C634,367.2 631.5,365.9 631,363.5 L625.5,363.3" stroke="#ff0000" fill="none" stroke-width="2"/><path d="M625,360.7 L625,367 L618,363.9 Z" stroke="#ff0000" fill="none" stroke-width="1.7"/></g><circle cx="158.5" cy="289.4" r="3.45" fill="#000" stroke="#ff0000" stroke-width="1.9"/>
<path d="M227.56,233.31 L231.3,223.75" stroke="#ff0000" stroke-width="2.3" fill="none"/><polyline points="231.3,223.75 230.19,219.16 237.99,223.1 235.27,213.86 243.68,217.47 240.43,208.63 249.23,212.41 246.24,204.04 250.44,204.67" fill="none" stroke="#000" stroke-width="2.3" stroke-linejoin="round" stroke-linecap="round"/>
<circle cx="253.5" cy="201.25" r="3.45" fill="#000" stroke="#ff0000" stroke-width="1.9"/>
</g>
<circle cx="425.5" cy="254.4" r="3.45" fill="#000" stroke="#ff0000" stroke-width="1.9"/>
<path d="M425,255.5 L424.9,272 M410,272 L439,272 M415.1,276.1 L433.1,276.1 M417,280 L431,280" stroke="#ff0000" stroke-width="2.3" fill="none"/>
<path d="M424.5,82.5 L424.6,72.5" stroke="#ff0000" stroke-width="2.3" fill="none"/><path d="M421.2,72.1 L427.8,72.1 L424.5,65.4 Z" stroke="#ff0000" fill="none" stroke-width="1.8"/>
<circle cx="424.4" cy="82.5" r="3.45" fill="#000" stroke="#ff0000" stroke-width="1.9"/>
<path d="M85.5,396.3 C85.51,393.92 85.53,386.59 85.55,382 C85.57,377.41 85.53,373.69 85.6,368.75 C85.67,363.81 85.72,357.82 85.97,352.36 C86.22,346.9 86.59,341.45 87.09,336.01 C87.58,330.57 88.2,325.14 88.94,319.74 C89.68,314.34 90.55,308.95 91.53,303.6 C92.52,298.25 93.63,292.92 94.85,287.63 C96.08,282.33 97.43,277.07 98.89,271.86 C100.36,266.64 101.94,261.46 103.64,256.33 C105.34,251.21 107.16,246.12 109.09,241.1 C111.02,236.07 113.07,231.09 115.23,226.18 C117.38,221.27 119.65,216.42 122.03,211.63 C124.4,206.85 126.89,202.13 129.48,197.48 C132.07,192.84 134.77,188.26 137.57,183.77 C140.36,179.27 143.27,174.85 146.26,170.52 C149.26,166.19 152.36,161.94 155.55,157.78 C158.74,153.62 162.03,149.55 165.41,145.58 C168.78,141.6 172.25,137.72 175.8,133.94 C179.35,130.16 182.99,126.48 186.71,122.9 C190.43,119.33 194.23,115.85 198.11,112.49 C201.98,109.13 205.94,105.87 209.96,102.73 C213.98,99.58 218.08,96.55 222.24,93.64 C226.4,90.73 230.63,87.93 234.92,85.25 C239.21,82.58 243.56,80.02 247.96,77.59 C252.37,75.16 256.83,72.84 261.34,70.66 C265.84,68.48 270.41,66.42 275.01,64.5 C279.61,62.57 284.26,60.77 288.94,59.1 C293.62,57.44 298.35,55.9 303.1,54.5 C307.85,53.1 312.64,51.82 317.45,50.69 C322.26,49.56 327.1,48.56 331.96,47.69 C336.81,46.83 344.14,45.88 346.58,45.51" fill="none" stroke="#000" stroke-width="3.5"/>
<path d="M363.1,46.25 L336.5,32.75 L345.6,46.25 L336.5,59 Z" fill="#000"/>
<path d="M69.6,348.75 L87.7,325.8 L102.4,351.5 M66.5,368.75 L86,345.3 L102.4,372 M64.5,390.75 L84.6,367.3 L100.5,394.25" fill="none" stroke="#000" stroke-width="3.3"/>
<clipPath id="one0"><rect x="305" y="83.3" width="16" height="14.13"/><rect x="311.98" y="97.22" width="2.97" height="4.07"/></clipPath>
<text x="313" y="100.3" font-family="'Liberation Sans', sans-serif" font-size="20.5" font-weight="bold" text-anchor="middle" stroke="#000" stroke-width="0.3" clip-path="url(#one0)">1</text>
<text x="562" y="110" font-family="'Liberation Sans', sans-serif" font-size="20.5" font-weight="bold" text-anchor="middle" stroke="#000" stroke-width="0.3" >2</text>
<text x="713" y="309" font-family="'Liberation Sans', sans-serif" font-size="20.5" font-weight="bold" text-anchor="middle" stroke="#000" stroke-width="0.3" >3</text>
<text x="649.7" y="553.75" font-family="'Liberation Sans', sans-serif" font-size="20.5" font-weight="bold" text-anchor="middle" stroke="#000" stroke-width="0.3" >4</text>
<text x="414.9" y="655.4" font-family="'Liberation Sans', sans-serif" font-size="20.5" font-weight="bold" text-anchor="middle" stroke="#000" stroke-width="0.3" >5</text>
<text x="192.6" y="540.9" font-family="'Liberation Sans', sans-serif" font-size="20.5" font-weight="bold" text-anchor="middle" stroke="#000" stroke-width="0.3" >6</text>
<text x="147.4" y="294.75" font-family="'Liberation Sans', sans-serif" font-size="20.5" font-weight="bold" text-anchor="middle" stroke="#000" stroke-width="0.3" >7</text>
<clipPath id="one7"><rect x="441.9" y="227.5" width="16" height="14.13"/><rect x="448.88" y="241.43" width="2.97" height="4.07"/></clipPath>
<text x="449.9" y="244.5" font-family="'Liberation Sans', sans-serif" font-size="20.5" font-weight="bold" text-anchor="middle" stroke="#000" stroke-width="0.3" clip-path="url(#one7)">1</text>
<text x="539.4" y="301.9" font-family="'Liberation Sans', sans-serif" font-size="20.5" font-weight="bold" text-anchor="middle" stroke="#000" stroke-width="0.3" >2</text>
<text x="537.5" y="412.2" font-family="'Liberation Sans', sans-serif" font-size="20.5" font-weight="bold" text-anchor="middle" stroke="#000" stroke-width="0.3" >3</text>
<text x="460.6" y="489.4" font-family="'Liberation Sans', sans-serif" font-size="20.5" font-weight="bold" text-anchor="middle" stroke="#000" stroke-width="0.3" >4</text>
<text x="354.2" y="462.6" font-family="'Liberation Sans', sans-serif" font-size="20.5" font-weight="bold" text-anchor="middle" stroke="#000" stroke-width="0.3" >5</text>
<text x="297.8" y="373.8" font-family="'Liberation Sans', sans-serif" font-size="20.5" font-weight="bold" text-anchor="middle" stroke="#000" stroke-width="0.3" >6</text>
<text x="340.6" y="268.4" font-family="'Liberation Sans', sans-serif" font-size="20.5" font-weight="bold" text-anchor="middle" stroke="#000" stroke-width="0.3" >7</text>
<text x="419.8" y="62.9" font-family="'Liberation Sans', sans-serif" font-size="21" font-weight="bold" text-anchor="start" stroke="#000" stroke-width="0.3" >+</text>
<text x="433" y="61" font-family="'Liberation Sans', sans-serif" font-size="13.2" font-weight="normal" text-anchor="start" stroke="#000" stroke-width="0.18" >9 V</text>
<text x="356" y="101.5" font-family="'Liberation Sans', sans-serif" font-size="7.6" font-weight="normal" text-anchor="start" stroke="#000" stroke-width="0.18" >UV-LED 390-395 nm</text>
<text x="356.3" y="119.5" font-family="'Liberation Sans', sans-serif" font-size="7.6" font-weight="normal" text-anchor="start" stroke="#000" stroke-width="0.18" >Ø 5 mm</text>
<text x="413.2" y="138.8" font-family="'Liberation Sans', sans-serif" font-size="7.6" font-weight="normal" text-anchor="start" stroke="#000" stroke-width="0.18" >300 R</text>
<text x="440.3" y="120.5" font-family="'Liberation Sans', sans-serif" font-size="9.6" font-weight="normal" text-anchor="start" stroke="#000" stroke-width="0.18" >D</text>
<text x="458" y="101.5" font-family="'Liberation Sans', sans-serif" font-size="7.6" font-weight="normal" text-anchor="start" stroke="#000" stroke-width="0.18" >2N700-DIO</text>
<text x="510" y="137.2" font-family="'Liberation Sans', sans-serif" font-size="9.6" font-weight="normal" text-anchor="start" stroke="#000" stroke-width="0.18" >S</text>
<text x="472.2" y="170.3" font-family="'Liberation Sans', sans-serif" font-size="9.6" font-weight="normal" text-anchor="start" stroke="#000" stroke-width="0.18" >G</text>
<text x="412.4" y="227.1" font-family="'Liberation Sans', sans-serif" font-size="7.5" font-weight="normal" text-anchor="start" stroke="#000" stroke-width="0.18" >100K</text>
<text x="470.2" y="229" font-family="'Liberation Sans', sans-serif" font-size="7.5" font-weight="normal" text-anchor="start" stroke="#000" stroke-width="0.18" >470 nF</text>
<g id="table"><rect x="680.75" y="62.5" width="189.5" height="19.0" fill="#ffff00"/>
<line x1="680.75" y1="43.5" x2="870.25" y2="43.5" stroke="#333" stroke-width="1"/>
<line x1="680.75" y1="62.5" x2="870.25" y2="62.5" stroke="#333" stroke-width="1"/>
<line x1="680.75" y1="81.5" x2="870.25" y2="81.5" stroke="#333" stroke-width="1"/>
<line x1="680.75" y1="100.5" x2="870.25" y2="100.5" stroke="#333" stroke-width="1"/>
<line x1="680.75" y1="119.75" x2="870.25" y2="119.75" stroke="#333" stroke-width="1"/>
<line x1="680.75" y1="138.75" x2="870.25" y2="138.75" stroke="#333" stroke-width="1"/>
<line x1="680.75" y1="158.25" x2="870.25" y2="158.25" stroke="#333" stroke-width="1"/>
<line x1="680.75" y1="177.5" x2="870.25" y2="177.5" stroke="#333" stroke-width="1"/>
<line x1="775.75" y1="43.5" x2="775.75" y2="196.75" stroke="#333" stroke-width="1"/>
<rect x="680.75" y="23.5" width="189.5" height="173.25" fill="none" stroke="#000" stroke-width="1.7"/>
<text x="684.3" y="39.2" font-family="'Liberation Serif', serif" font-size="17.2" text-anchor="start" stroke="#000" stroke-width="0.25" word-spacing="1.5" textLength="117.3" lengthAdjust="spacingAndGlyphs">SPIN: Clockwise</text>
<text x="729.2" y="57.5" font-family="'Liberation Serif', serif" font-size="17.2" text-anchor="middle" stroke="#000" stroke-width="0.25" textLength="32.6" lengthAdjust="spacingAndGlyphs">Gate</text>
<text x="823.7" y="57.5" font-family="'Liberation Serif', serif" font-size="17.2" text-anchor="middle" stroke="#000" stroke-width="0.25" textLength="39.6" lengthAdjust="spacingAndGlyphs">Drain</text>
<text x="728.3" y="77.3" font-family="'Liberation Serif', serif" font-size="17.2" text-anchor="middle" stroke="#000" stroke-width="0.25" >1</text>
<text x="823.2" y="77.3" font-family="'Liberation Serif', serif" font-size="17.2" text-anchor="middle" stroke="#000" stroke-width="0.25" >5</text>
<text x="728.3" y="96.3" font-family="'Liberation Serif', serif" font-size="17.2" text-anchor="middle" stroke="#000" stroke-width="0.25" >2</text>
<text x="823.2" y="96.3" font-family="'Liberation Serif', serif" font-size="17.2" text-anchor="middle" stroke="#000" stroke-width="0.25" >6</text>
<text x="728.3" y="115.55" font-family="'Liberation Serif', serif" font-size="17.2" text-anchor="middle" stroke="#000" stroke-width="0.25" >3</text>
<text x="823.2" y="115.55" font-family="'Liberation Serif', serif" font-size="17.2" text-anchor="middle" stroke="#000" stroke-width="0.25" >7</text>
<text x="728.3" y="134.55" font-family="'Liberation Serif', serif" font-size="17.2" text-anchor="middle" stroke="#000" stroke-width="0.25" >4</text>
<text x="823.2" y="134.55" font-family="'Liberation Serif', serif" font-size="17.2" text-anchor="middle" stroke="#000" stroke-width="0.25" >1</text>
<text x="728.3" y="154.05" font-family="'Liberation Serif', serif" font-size="17.2" text-anchor="middle" stroke="#000" stroke-width="0.25" >5</text>
<text x="823.2" y="154.05" font-family="'Liberation Serif', serif" font-size="17.2" text-anchor="middle" stroke="#000" stroke-width="0.25" >2</text>
<text x="728.3" y="173.3" font-family="'Liberation Serif', serif" font-size="17.2" text-anchor="middle" stroke="#000" stroke-width="0.25" >6</text>
<text x="823.2" y="173.3" font-family="'Liberation Serif', serif" font-size="17.2" text-anchor="middle" stroke="#000" stroke-width="0.25" >3</text>
<text x="728.3" y="192.55" font-family="'Liberation Serif', serif" font-size="17.2" text-anchor="middle" stroke="#000" stroke-width="0.25" >7</text>
<text x="823.2" y="192.55" font-family="'Liberation Serif', serif" font-size="17.2" text-anchor="middle" stroke="#000" stroke-width="0.25" >4</text></g>
</svg>
</body></html>
